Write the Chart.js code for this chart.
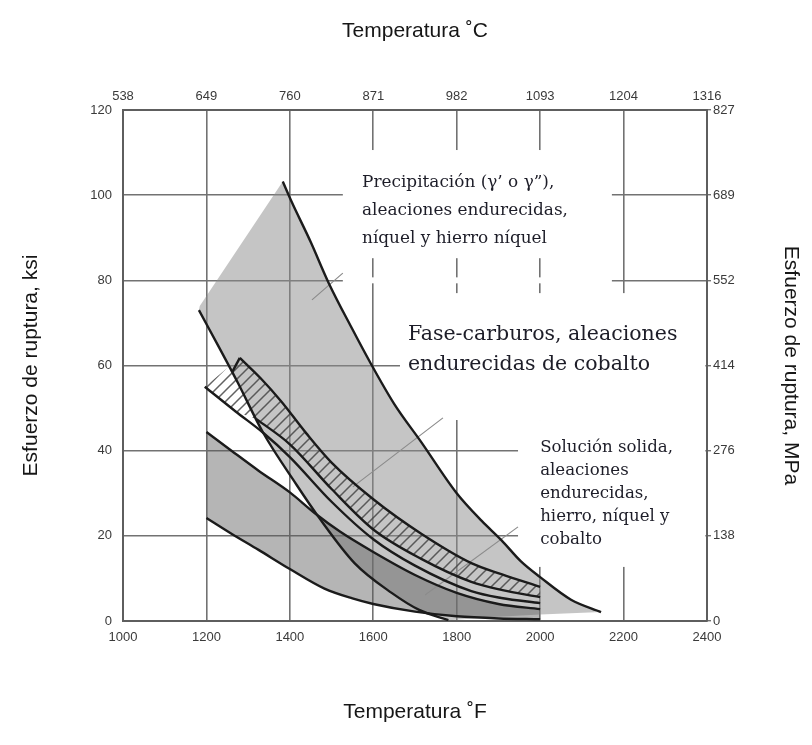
<!DOCTYPE html>
<html>
<head>
<meta charset="utf-8">
<script src="https://cdn.jsdelivr.net/npm/chart.js@4.4.0/dist/chart.umd.min.js"></script>
<style>
html, body { margin: 0; padding: 0; background: #fff; }
#wrap { width: 812px; height: 745px; }
</style>
</head>
<body>
<div id="wrap"><canvas id="ruptura"></canvas></div>
<script>
// tick labels
var tempF = [1000, 1200, 1400, 1600, 1800, 2000, 2200, 2400];
var tempC = ['538', '649', '760', '871', '982', '1093', '1204', '1316'];
var ksi = [0, 20, 40, 60, 80, 100, 120];
var mpa = ['0', '138', '276', '414', '552', '689', '827'];

// curves, [°F, ksi]
var precipTop = [[1383,103.2],[1404,98.5],[1450,89],[1493,79.4],[1550,68.5],[1591,61],[1650,51],[1715,42],[1800,30],[1860,23.5],[1907,19],[1954,14],[2000,10.3],[2074,5],[2146,2.1]];
var precipLeft = [[1184,74],[1383,103.2]];
var precipBottom = [[2146,2.1],[2000,1.5],[1900,1.0],[1780,0.2]];
var lineA = [[1182,73],[1230,64.3],[1275,56],[1336,44.2],[1416,32],[1469,24.4],[1555,13.6],[1644,6.6],[1710,2.6],[1780,0.2]];
var carbTop = [[1262,58.5],[1280,61.8],[1330,57],[1380,51.5],[1440,44],[1500,37.2],[1600,28.6],[1715,20.5],[1835,13.6],[1907,11],[2000,8]];
var carbBottom = [[1320,47.4],[1400,41.5],[1500,31],[1600,21.5],[1715,14.6],[1835,9.2],[1907,7.3],[2000,5.6]];
var carbEdge = [[1196,55],[1270,49.2],[1336,44.2],[1400,38.5],[1500,28],[1600,19.2],[1700,13],[1835,7],[1907,5.4],[2000,4.2]];
var solidTop = [[1200,44.4],[1260,40],[1325,35.3],[1400,30.2],[1460,25.3],[1520,21],[1600,16.2],[1700,10.8],[1800,6.6],[1900,4],[2000,2.8]];
var solidBottom = [[1200,24.2],[1260,20.5],[1325,16.7],[1400,12.2],[1483,7.6],[1550,5.3],[1600,4],[1700,2.2],[1800,1.1],[1900,0.6],[2000,0.4]];
var leaders = [
    [[1527,81.7],[1453,75.4]],
    [[1767,47.7],[1551,31.5]],
    [[1947,22.1],[1724,6.1]]
];
var notes = [
    ['Precipitación (γ’ o γ”),', 'aleaciones endurecidas,', 'níquel y hierro níquel'],
    ['Fase-carburos, aleaciones', 'endurecidas de cobalto'],
    ['Solución solida,', 'aleaciones', 'endurecidas,', 'hierro, níquel y', 'cobalto']
];

function toXY(arr) {
    return arr.map(function(p) { return {x: p[0], y: p[1]}; });
}

// closed shapes for the bands
var precipPoly = precipLeft.concat(precipTop.slice(1), precipBottom.slice(1), lineA.slice(0, -1).reverse());
var solidPoly = solidTop.concat(solidBottom.slice().reverse());
var carbPoly = [carbEdge[0]].concat(carbTop.slice(1), carbBottom.slice().reverse(), [carbEdge[1]]);

// hatching for the cobalt band
function makeHatch() {
    var c = document.createElement('canvas');
    c.width = 11; c.height = 11;
    var g = c.getContext('2d');
    g.strokeStyle = 'rgba(70,70,70,0.85)';
    g.lineWidth = 1.5;
    g.beginPath();
    g.moveTo(-2, 13); g.lineTo(13, -2);
    g.moveTo(-2, 2); g.lineTo(2, -2);
    g.moveTo(9, 13); g.lineTo(13, 9);
    g.stroke();
    return g.createPattern(c, 'repeat');
}

function band(pts, color, order) {
    return {
        data: toXY(pts), fill: 'shape', backgroundColor: color,
        borderWidth: 0, pointRadius: 0, tension: 0, order: order
    };
}
function curve(pts, color, width, order) {
    return {
        data: toXY(pts), fill: false, borderColor: color, borderWidth: width,
        pointRadius: 0, cubicInterpolationMode: 'monotone', order: order
    };
}

var datasets = [
    band(precipPoly, 'rgba(140,140,140,0.5)', 10),
    band(solidPoly, 'rgba(90,90,90,0.45)', 9),
    band(carbPoly, makeHatch(), 8)
];
leaders.forEach(function(l) { datasets.push(curve(l, '#8c8c8c', 1.2, 7)); });
// corner of the cobalt band stays sharp: short straight piece, then the curve
var corner = curve(carbTop.slice(0, 2), '#1b1b1b', 2.4, 1);
corner.cubicInterpolationMode = 'default';
corner.tension = 0;
datasets.push(corner);
[precipTop, lineA, carbTop.slice(1), carbBottom, carbEdge, solidTop, solidBottom].forEach(function(c) {
    datasets.push(curve(c, '#1b1b1b', 2.4, 1));
});

//plugin: white boxes behind the labels + label text
var labelPlugin = {
    id: 'labels',
    beforeDatasetsDraw: function(chart) {
        var ctx = chart.ctx, x = chart.scales.x, y = chart.scales.y;
        var boxes = [[1527, 2172, 110.6, 85.2], [1527, 2172, 80.7, 79.3], [1664, 2396, 77, 47.2], [1947, 2396, 47.2, 12.7]];
        ctx.save();
        ctx.fillStyle = '#fff';
        boxes.forEach(function(b) {
            var x0 = x.getPixelForValue(b[0]), x1 = x.getPixelForValue(b[1]);
            var y0 = y.getPixelForValue(b[2]), y1 = y.getPixelForValue(b[3]);
            ctx.fillRect(x0, y0, x1 - x0, y1 - y0);
        });
        ctx.restore();
    },
    afterDatasetsDraw: function(chart) {
        var ctx = chart.ctx, x = chart.scales.x, y = chart.scales.y;
        // anchor (°F, ksi), index of the line used to size, its width, line step
        var place = [[1573, 102.9, 1, 206, 28], [1683, 67.2, 0, 270, 30], [2000, 40.6, 3, 129, 23]];
        ctx.save();
        ctx.fillStyle = '#1d1d28';
        ctx.textBaseline = 'middle';
        ctx.textAlign = 'left';
        notes.forEach(function(lines, i) {
            var p = place[i];
            ctx.font = '20px "DejaVu Serif"';
            var size = 20 * p[3] / ctx.measureText(lines[p[2]]).width;
            ctx.font = size.toFixed(1) + 'px "DejaVu Serif"';
            var px = x.getPixelForValue(p[0]), py = y.getPixelForValue(p[1]);
            lines.forEach(function(t, k) { ctx.fillText(t, px, py + k * p[4]); });
        });
        ctx.restore();
    }
};

var tickFont = {family: 'Liberation Sans', size: 13};
var titleFont = {family: 'Liberation Sans', size: 21};
var gridColor = '#727272';
var borderStyle = {display: true, color: '#5e5e5e', width: 2};

var config = {
    type: 'line',
    data: {datasets: datasets},
    options: {
        responsive: true,
        maintainAspectRatio: false,
        animation: false,
        events: [],
        layout: {padding: 0},
        plugins: {legend: {display: false}, tooltip: {enabled: false}},
        scales: {
            x: {
                type: 'linear', position: 'bottom', min: 1000, max: 2400,
                afterFit: function(s) { s.height = 124; },
                ticks: {stepSize: 200, font: tickFont, color: '#3a3a3a', padding: 9,
                    callback: function(v) { return tempF.indexOf(v) >= 0 ? String(v) : ''; }},
                grid: {color: gridColor, lineWidth: 1.6, drawTicks: false},
                border: borderStyle,
                title: {display: true, text: 'Temperatura ˚F', font: titleFont, color: '#161616', padding: {top: 0, bottom: 20}}
            },
            x2: {
                type: 'linear', position: 'top', min: 1000, max: 2400,
                afterFit: function(s) { s.height = 110; },
                ticks: {stepSize: 200, font: tickFont, color: '#3a3a3a', padding: 6,
                    callback: function(v) { var i = tempF.indexOf(v); return i >= 0 ? tempC[i] : ''; }},
                grid: {drawOnChartArea: false, drawTicks: false},
                border: borderStyle,
                title: {display: true, text: 'Temperatura ˚C', font: titleFont, color: '#161616', padding: {top: 19, bottom: 0}}
            },
            y: {
                type: 'linear', position: 'left', min: 0, max: 120,
                afterFit: function(s) { s.width = 123; },
                ticks: {stepSize: 20, font: tickFont, color: '#3a3a3a', padding: 11},
                grid: {color: gridColor, lineWidth: 1.6, drawTicks: false},
                border: borderStyle,
                title: {display: true, text: 'Esfuerzo de ruptura, ksi', font: titleFont, color: '#161616', padding: {top: 19, bottom: 0}}
            },
            y2: {
                type: 'linear', position: 'right', min: 0, max: 120,
                afterFit: function(s) { s.width = 105; },
                ticks: {stepSize: 20, font: tickFont, color: '#3a3a3a', padding: 2,
                    callback: function(v) { var i = ksi.indexOf(v); return i >= 0 ? mpa[i] : ''; }},
                grid: {drawOnChartArea: false, drawTicks: true, tickLength: 4, color: gridColor, lineWidth: 1.4},
                border: borderStyle,
                title: {display: true, text: 'Esfuerzo de ruptura, MPa', font: titleFont, color: '#161616', padding: {top: 9, bottom: 0}}
            }
        }
    },
    plugins: [labelPlugin]
};

const rupturaChart = new Chart(document.getElementById('ruptura'), config);
</script>
</body>
</html>
